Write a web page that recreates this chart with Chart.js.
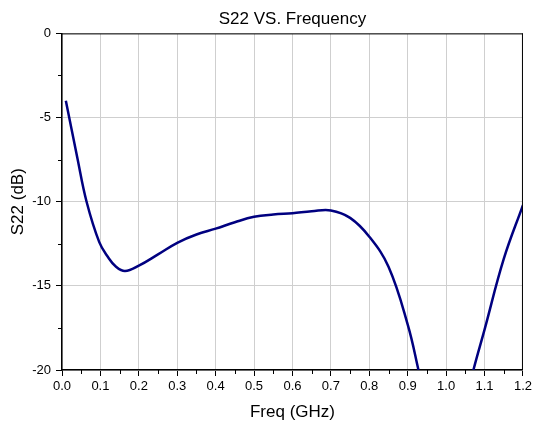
<!DOCTYPE html>
<html>
<head>
<meta charset="utf-8">
<script src="https://cdn.jsdelivr.net/npm/chart.js@4.4.1/dist/chart.umd.min.js"></script>
<style>
  html, body { margin: 0; padding: 0; background: #ffffff; }
  #wrap { width: 535px; height: 427px; }
</style>
</head>
<body>
<div id="wrap"><canvas id="c" width="535" height="427"></canvas></div>
<script>
const chartTitle = "S22 VS. Frequency";
const xTitle = "Freq (GHz)";
const yTitle = "S22 (dB)";
const seriesName = "S22";

const freqGHz = [0.01, 0.04, 0.064, 0.097, 0.12, 0.14, 0.164, 0.2, 0.25, 0.3, 0.35, 0.4, 0.45, 0.5, 0.55, 0.6, 0.65, 0.7, 0.75, 0.8, 0.85, 0.9, 0.928, 0.95, 1.0, 1.05, 1.071, 1.1, 1.15, 1.2];
const s22dB   = [-4.0, -7.4, -10.0, -12.4, -13.3, -13.85, -14.12, -13.8, -13.13, -12.44, -11.95, -11.6, -11.22, -10.9, -10.76, -10.68, -10.57, -10.52, -10.96, -12.08, -13.87, -17.3, -20.0, -22.3, -27.0, -22.0, -20.0, -17.6, -13.4, -10.2];

const xMin = 0, xMax = 1.2, xStep = 0.1, xMinorStep = 0.05;
const yMin = -20, yMax = 0, yStep = 5, yMinorStep = 2.5;

const FONT = "'Liberation Sans', Arial, sans-serif";

const points = freqGHz.map((f, i) => ({ x: f, y: s22dB[i] }));

const frameAndMinor = {
  id: 'frameAndMinor',
  afterDraw(chart) {
    const { ctx, chartArea: a, scales } = chart;
    ctx.save();
    ctx.strokeStyle = '#000';
    ctx.lineWidth = 1;
    ctx.beginPath();
    ctx.moveTo(a.left, a.top + 0.5); ctx.lineTo(a.right, a.top + 0.5);
    ctx.moveTo(a.right - 0.5, a.top); ctx.lineTo(a.right - 0.5, a.bottom);
    for (let v = xMin + xMinorStep; v < xMax; v += xStep) {
      const px = Math.round(scales.x.getPixelForValue(v)) + 0.5;
      ctx.moveTo(px, a.bottom); ctx.lineTo(px, a.bottom + 4);
    }
    for (let v = yMin + yMinorStep; v < yMax; v += yStep) {
      const py = Math.round(scales.y.getPixelForValue(v)) + 0.5;
      ctx.moveTo(a.left, py); ctx.lineTo(a.left - 4, py);
    }
    ctx.stroke();
    ctx.restore();
  }
};

new Chart(document.getElementById('c'), {
  type: 'line',
  data: {
    datasets: [{
      label: seriesName,
      data: points,
      borderColor: '#000080',
      borderWidth: 2.5,
      pointRadius: 0,
      fill: false,
      tension: 0.4
    }]
  },
  options: {
    responsive: false,
    animation: false,
    devicePixelRatio: 1,
    layout: { padding: { left: 0, right: 12, top: 0, bottom: 0 } },
    plugins: {
      legend: { display: false },
      tooltip: { enabled: false },
      title: {
        display: true,
        text: chartTitle,
        fullSize: false,
        color: '#000',
        font: { family: FONT, size: 17, weight: 'normal' },
        padding: { top: 9, bottom: 4 }
      }
    },
    scales: {
      x: {
        type: 'linear',
        min: xMin, max: xMax,
        afterFit(scale) { scale.height = 57; },
        ticks: {
          stepSize: xStep,
          color: '#000',
          font: { family: FONT, size: 13 },
          padding: 3,
          maxRotation: 0,
          autoSkip: false,
          callback: (v) => Number(v).toFixed(1)
        },
        grid: { color: '#cfcfcf', lineWidth: 1, tickColor: '#000', tickLength: 6, tickWidth: 1 },
        border: { display: true, color: '#000', width: 1.5 },
        title: {
          display: true, text: xTitle, color: '#000',
          font: { family: FONT, size: 17 },
          padding: { top: 0, bottom: 4 }
        }
      },
      y: {
        type: 'linear',
        min: yMin, max: yMax,
        afterFit(scale) { scale.width = 62; },
        ticks: {
          stepSize: yStep,
          color: '#000',
          font: { family: FONT, size: 13 },
          padding: 5,
          callback: (v) => String(Math.round(v))
        },
        grid: { color: '#cfcfcf', lineWidth: 1, tickColor: '#000', tickLength: 6, tickWidth: 1 },
        border: { display: true, color: '#000', width: 1.5 },
        title: {
          display: true, text: yTitle, color: '#000',
          font: { family: FONT, size: 17 },
          padding: { top: 8, bottom: 0 }
        }
      }
    }
  },
  plugins: [frameAndMinor]
});
</script>
</body>
</html>
